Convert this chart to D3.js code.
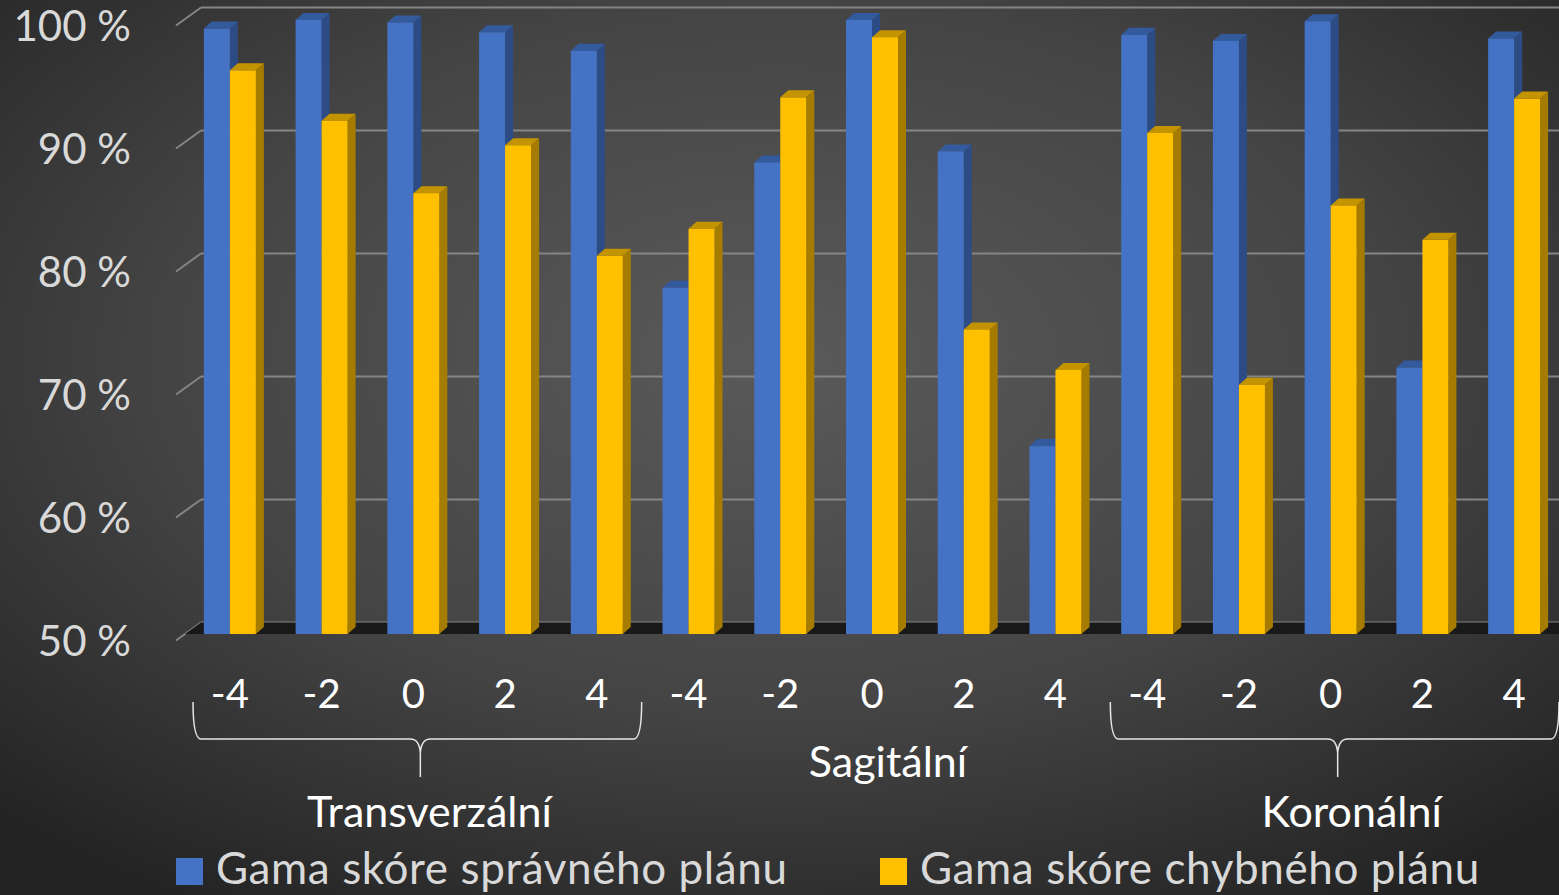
<!DOCTYPE html>
<html>
<head>
<meta charset="UTF-8">
<script src="https://cdn.jsdelivr.net/npm/d3@7"></script>
<style>
  body { margin: 0; background: #2a2a2a; }
  svg { display: block; }
  text { font-family: Lato, "Open Sans", sans-serif; }
</style>
</head>
<body>
<svg id="chart" width="1559" height="895"></svg>
<script>
// data
const planes = ["Transverzální", "Sagitální", "Koronální"];
const shifts = ["-4", "-2", "0", "2", "4"];
const seriesNames = ["Gama skóre správného plánu", "Gama skóre chybného plánu"];
const correctPlan = [99.3, 100, 99.8, 99.0, 97.5,  78.2, 88.4, 100, 89.3, 65.3,  98.8, 98.3, 99.9, 71.7, 98.5];
const wrongPlan   = [95.9, 91.8, 85.9, 89.8, 80.8,  83.0, 93.7, 98.6, 74.8, 71.5,  90.8, 70.3, 84.9, 82.1, 93.6];
const yTicks = [50, 60, 70, 80, 90, 100];

const W = 1559, H = 895;
const svg = d3.select("#chart");

// categories: one per plane x shift
const cats = [];
planes.forEach((p, pi) => shifts.forEach((s, si) => cats.push({ key: p + s, plane: p, shift: s, i: pi * shifts.length + si })));
const rows = cats.map((c, i) => ({ ...c, values: [correctPlan[i], wrongPlan[i]] }));

// background
const defs = svg.append("defs");
const bg = defs.append("radialGradient").attr("id", "bg")
    .attr("cx", "0.5").attr("cy", "0.4").attr("r", "0.72");
bg.append("stop").attr("offset", "0").attr("stop-color", "#5a5a5a");
bg.append("stop").attr("offset", "0.55").attr("stop-color", "#444");
bg.append("stop").attr("offset", "1").attr("stop-color", "#232323");
svg.append("rect").attr("width", W).attr("height", H).attr("fill", "url(#bg)");

// scales
const wall = { dx: 25, dy: -18 };   // depth of side wall
const deep = { dx: 8, dy: -7 };     // depth of a bar
const yBack = d3.scaleLinear([50, 100], [622.5, 7.5]);
const yBar = d3.scaleLinear([50, 100], [634, 20]);
const x = d3.scaleBand(cats.map(d => d.key), [184, 1560]).paddingInner(0.433).paddingOuter(0.2165);
const xs = d3.scaleBand([0, 1], [0, x.bandwidth()]);
const colors = [
    { front: "#4472c4", top: "#345a9e", side: "#2d4c85" },
    { front: "#ffc000", top: "#c49300", side: "#a57b00" }
];

// gridlines (back wall + left side wall)
const grid = svg.append("g");
yTicks.forEach(v => {
    grid.append("line")
        .attr("x1", 176 + wall.dx).attr("x2", W)
        .attr("y1", yBack(v)).attr("y2", yBack(v))
        .attr("stroke", "#858585").attr("stroke-width", 2);
    grid.append("line")
        .attr("x1", 176).attr("y1", yBack(v) - wall.dy)
        .attr("x2", 176 + wall.dx).attr("y2", yBack(v))
        .attr("stroke", "#858585").attr("stroke-width", 2);
});

// floor
const fb = yBack(50), ff = yBar(50);
const fx = 176 + wall.dx * (1 - (ff - fb) / -wall.dy);
svg.append("path")
    .attr("d", `M${176 + wall.dx},${fb}L${W},${fb}L${W},${ff}L${fx},${ff}Z`)
    .attr("fill", "#191919");

// 3D bars
const bars = svg.append("g");
rows.forEach(r => {
    r.values.forEach((v, k) => {
        const x0 = x(r.key) + xs(k), x1 = x0 + xs.bandwidth();
        const yt = yBar(v), yb = yBar(50);
        const c = colors[k];
        const g = bars.append("g");
        g.append("path")   // side
            .attr("d", `M${x1},${yt}L${x1 + deep.dx},${yt + deep.dy}L${x1 + deep.dx},${yb + deep.dy}L${x1},${yb}Z`)
            .attr("fill", c.side);
        g.append("path")   // top
            .attr("d", `M${x0},${yt}L${x0 + deep.dx},${yt + deep.dy}L${x1 + deep.dx},${yt + deep.dy}L${x1},${yt}Z`)
            .attr("fill", c.top);
        g.append("rect")   // front
            .attr("x", x0).attr("y", yt)
            .attr("width", xs.bandwidth()).attr("height", yb - yt)
            .attr("fill", c.front);
    });
});

// y axis labels
svg.append("g").selectAll("text").data(yTicks).join("text")
    .attr("x", 131).attr("y", d => yBack(d) + 33)
    .attr("text-anchor", "end")
    .attr("font-size", 42).attr("fill", "#d9d9d9")
    .text(d => d + " %");

// x tick labels
svg.append("g").selectAll("text").data(cats).join("text")
    .attr("x", d => x(d.key) + x.bandwidth() / 2)
    .attr("y", 708)
    .attr("text-anchor", "middle")
    .attr("font-size", 40).attr("fill", "#ffffff")
    .text(d => d.shift);

// group braces and labels
const groups = planes.map((p, pi) => {
    const first = cats[pi * shifts.length].key, last = cats[pi * shifts.length + shifts.length - 1].key;
    const a = x(first) - x.step() * x.paddingOuter(), b = x(last) + x.bandwidth() + x.step() * x.paddingOuter();
    return { name: p, a: a, b: b, braced: pi !== 1 };
});
const brace = (x0, x1) => {
    const xc = (x0 + x1) / 2 + 3, top = 702, mid = 739, tip = 777;
    return `M${x0},${top}Q${x0},${mid} ${x0 + 8},${mid}L${xc - 10},${mid}Q${xc - 1},${mid} ${xc},${mid + 14}L${xc},${tip}` +
           `M${xc},${mid + 14}Q${xc + 1},${mid} ${xc + 10},${mid}L${x1 - 8},${mid}Q${x1},${mid} ${x1},${top}`;
};
svg.append("g").selectAll("path").data(groups.filter(g => g.braced)).join("path")
    .attr("d", d => brace(d.a + 9, d.b - 1))
    .attr("fill", "none").attr("stroke", "#e6e6e6").attr("stroke-width", 1.5);
svg.append("g").selectAll("text").data(groups).join("text")
    .attr("x", d => (d.a + d.b) / 2 + 16 + (d.b > 1400 ? 5 : 0))
    .attr("y", d => d.braced ? 827 : 777)
    .attr("text-anchor", "middle")
    .attr("font-size", 43).attr("fill", "#ffffff")
    .text(d => d.name);

// legend
const legend = svg.append("g");
const legendX = [176, 880];
seriesNames.forEach((s, k) => {
    legend.append("rect").attr("x", legendX[k]).attr("y", 858)
        .attr("width", 27).attr("height", 27).attr("fill", colors[k].front);
    legend.append("text").attr("x", legendX[k] + 40).attr("y", 884)
        .attr("font-size", 44).attr("letter-spacing", 0.6).attr("fill", "#d9d9d9")
        .text(s);
});
</script>
</body>
</html>
